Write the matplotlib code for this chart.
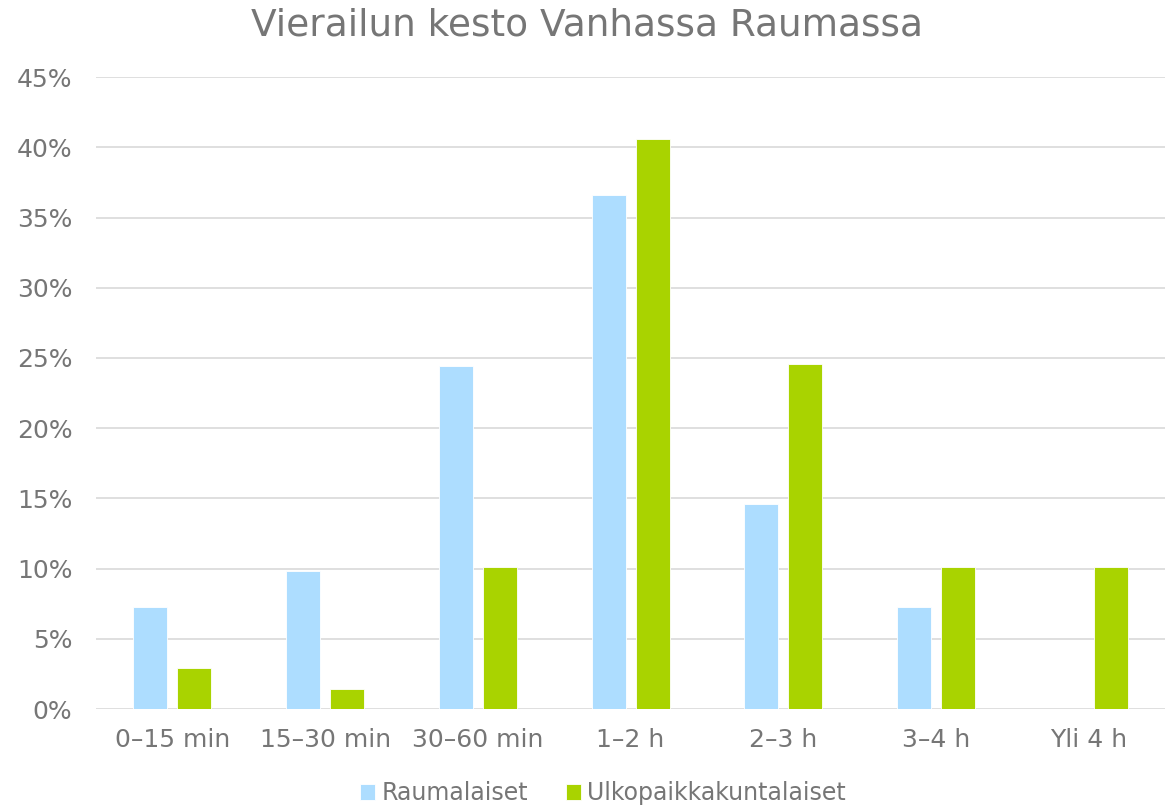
import matplotlib
matplotlib.use("Agg")
import matplotlib.pyplot as plt
import numpy as np

categories = ["0–15 min", "15–30 min", "30–60 min", "1–2 h", "2–3 h", "3–4 h", "Yli 4 h"]
raumalaiset = [7.3, 9.8, 24.4, 36.6, 14.6, 7.3, 0.0]
ulkopaikkakuntalaiset = [2.9, 1.4, 10.1, 40.6, 24.6, 10.1, 10.1]
yticks = [0, 5, 10, 15, 20, 25, 30, 35, 40, 45]

text_color = "#767676"
blue = "#ADDDFF"
green = "#A9D300"

plt.rcParams["font.family"] = ["DejaVu Sans"]

fig = plt.figure(figsize=(11.74, 8.06), dpi=100)
ax = fig.add_axes([0.0818, 0.1203, 0.9106, 0.784])

x = np.arange(len(categories))
w = 0.223
off = 0.144
ax.bar(x - off, raumalaiset, w, color=blue, edgecolor="white", linewidth=0.6,
       label="Raumalaiset", zorder=3)
ax.bar(x + off, ulkopaikkakuntalaiset, w, color=green, edgecolor="white", linewidth=0.6,
       label="Ulkopaikkakuntalaiset", zorder=3)

ax.set_xlim(-0.5, len(categories) - 0.5)
ax.set_ylim(0, 45)
ax.set_yticks(yticks)
ax.set_yticklabels([f"{t}%" for t in yticks])
ax.set_xticks(x)
ax.set_xticklabels(categories)
ax.tick_params(axis="both", length=0, labelsize=18, labelcolor=text_color)
ax.tick_params(axis="y", pad=17)
ax.tick_params(axis="x", pad=14)
ax.yaxis.grid(True, color="#DCDCDC", linewidth=1.3, zorder=0)
for s in ax.spines.values():
    s.set_visible(False)

fig.suptitle("Vierailun kesto Vanhassa Raumassa", fontsize=27, color=text_color, y=0.991)

leg = ax.legend(loc="lower center", bbox_to_anchor=(0.474, -0.186), ncol=2, frameon=False,
                fontsize=17, handlelength=0.65, handleheight=0.65, handletextpad=0.25,
                columnspacing=1.6)
for t in leg.get_texts():
    t.set_color(text_color)

fig.savefig("out.png", dpi=100)
